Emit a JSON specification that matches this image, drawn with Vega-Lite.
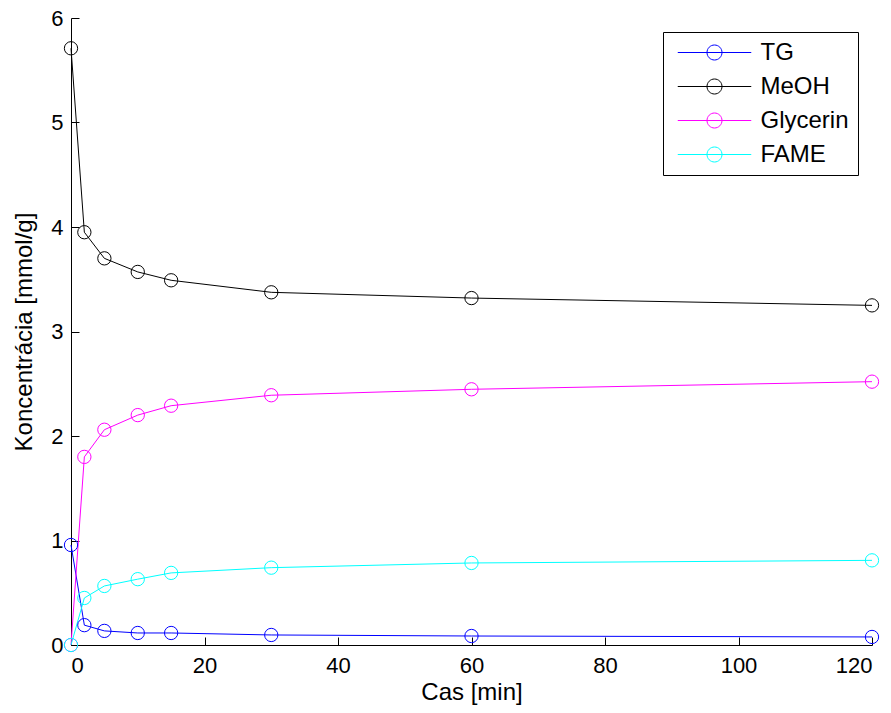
{
  "$schema": "https://vega.github.io/schema/vega-lite/v6.json",
  "width": 801,
  "height": 627,
  "autosize": {"type": "none"},
  "padding": {"left": 71, "top": 18, "right": 19, "bottom": 68},
  "background": "white",
  "config": {
    "view": {"stroke": null},
    "font": "Liberation Sans",
    "axis": {
      "grid": false,
      "domainColor": "black",
      "domainWidth": 1,
      "tickColor": "black",
      "tickWidth": 1,
      "tickSize": -8,
      "labelFont": "Liberation Sans",
      "labelFontSize": 22,
      "labelColor": "black",
      "titleFont": "Liberation Sans",
      "titleFontSize": 24,
      "titleFontWeight": "normal",
      "titleColor": "black"
    }
  },
  "data": {
    "values": [
      {"t": 0, "c": 0.957, "s": "TG"},
      {"t": 2, "c": 0.19, "s": "TG"},
      {"t": 5, "c": 0.135, "s": "TG"},
      {"t": 10, "c": 0.115, "s": "TG"},
      {"t": 15, "c": 0.115, "s": "TG"},
      {"t": 30, "c": 0.096, "s": "TG"},
      {"t": 60, "c": 0.086, "s": "TG"},
      {"t": 120, "c": 0.077, "s": "TG"},
      {"t": 0, "c": 5.71, "s": "MeOH"},
      {"t": 2, "c": 3.95, "s": "MeOH"},
      {"t": 5, "c": 3.7, "s": "MeOH"},
      {"t": 10, "c": 3.57, "s": "MeOH"},
      {"t": 15, "c": 3.49, "s": "MeOH"},
      {"t": 30, "c": 3.375, "s": "MeOH"},
      {"t": 60, "c": 3.32, "s": "MeOH"},
      {"t": 120, "c": 3.25, "s": "MeOH"},
      {"t": 0, "c": 0.0, "s": "Glycerin"},
      {"t": 2, "c": 1.8, "s": "Glycerin"},
      {"t": 5, "c": 2.06, "s": "Glycerin"},
      {"t": 10, "c": 2.2, "s": "Glycerin"},
      {"t": 15, "c": 2.29, "s": "Glycerin"},
      {"t": 30, "c": 2.39, "s": "Glycerin"},
      {"t": 60, "c": 2.447, "s": "Glycerin"},
      {"t": 120, "c": 2.52, "s": "Glycerin"},
      {"t": 0, "c": 0.0, "s": "FAME"},
      {"t": 2, "c": 0.45, "s": "FAME"},
      {"t": 5, "c": 0.565, "s": "FAME"},
      {"t": 10, "c": 0.63, "s": "FAME"},
      {"t": 15, "c": 0.69, "s": "FAME"},
      {"t": 30, "c": 0.74, "s": "FAME"},
      {"t": 60, "c": 0.785, "s": "FAME"},
      {"t": 120, "c": 0.81, "s": "FAME"}
    ]
  },
  "encoding": {
    "x": {
      "field": "t",
      "type": "quantitative",
      "title": "Cas [min]",
      "scale": {"domain": [0, 120], "nice": false, "zero": false},
      "axis": {"values": [0, 20, 40, 60, 80, 100, 120], "labelPadding": 18, "titlePadding": 4}
    },
    "y": {
      "field": "c",
      "type": "quantitative",
      "title": "Koncentrácia [mmol/g]",
      "scale": {"domain": [0, 6], "nice": false},
      "axis": {"values": [0, 1, 2, 3, 4, 5, 6], "labelPadding": 16, "titlePadding": 14}
    },
    "color": {
      "field": "s",
      "type": "nominal",
      "sort": ["TG", "MeOH", "Glycerin", "FAME"],
      "scale": {"domain": ["TG", "MeOH", "Glycerin", "FAME"], "range": ["#0000ff", "#000000", "#ff00ff", "#00ffff"]},
      "legend": {
        "title": null,
        "orient": "top-right",
        "offset": 14,
        "strokeColor": "black",
        "fillColor": "white",
        "padding": 8.5,
        "rowPadding": 10,
        "labelFont": "Liberation Sans",
        "labelFontSize": 24,
        "labelColor": "black",
        "labelAlign": "left",
        "symbolType": "M-4.9,0H4.9M1,0A1,1 0 1,1 -1,0A1,1 0 1,1 1,0",
        "symbolSize": 225,
        "symbolStrokeWidth": 1,
        "symbolFillColor": "transparent",
        "symbolOffset": 31,
        "labelOffset": 34
      }
    }
  },
  "layer": [
    {"mark": {"type": "line", "strokeWidth": 1}},
    {"mark": {"type": "point", "shape": "circle", "filled": false, "size": 177, "strokeWidth": 1, "opacity": 1}}
  ]
}
